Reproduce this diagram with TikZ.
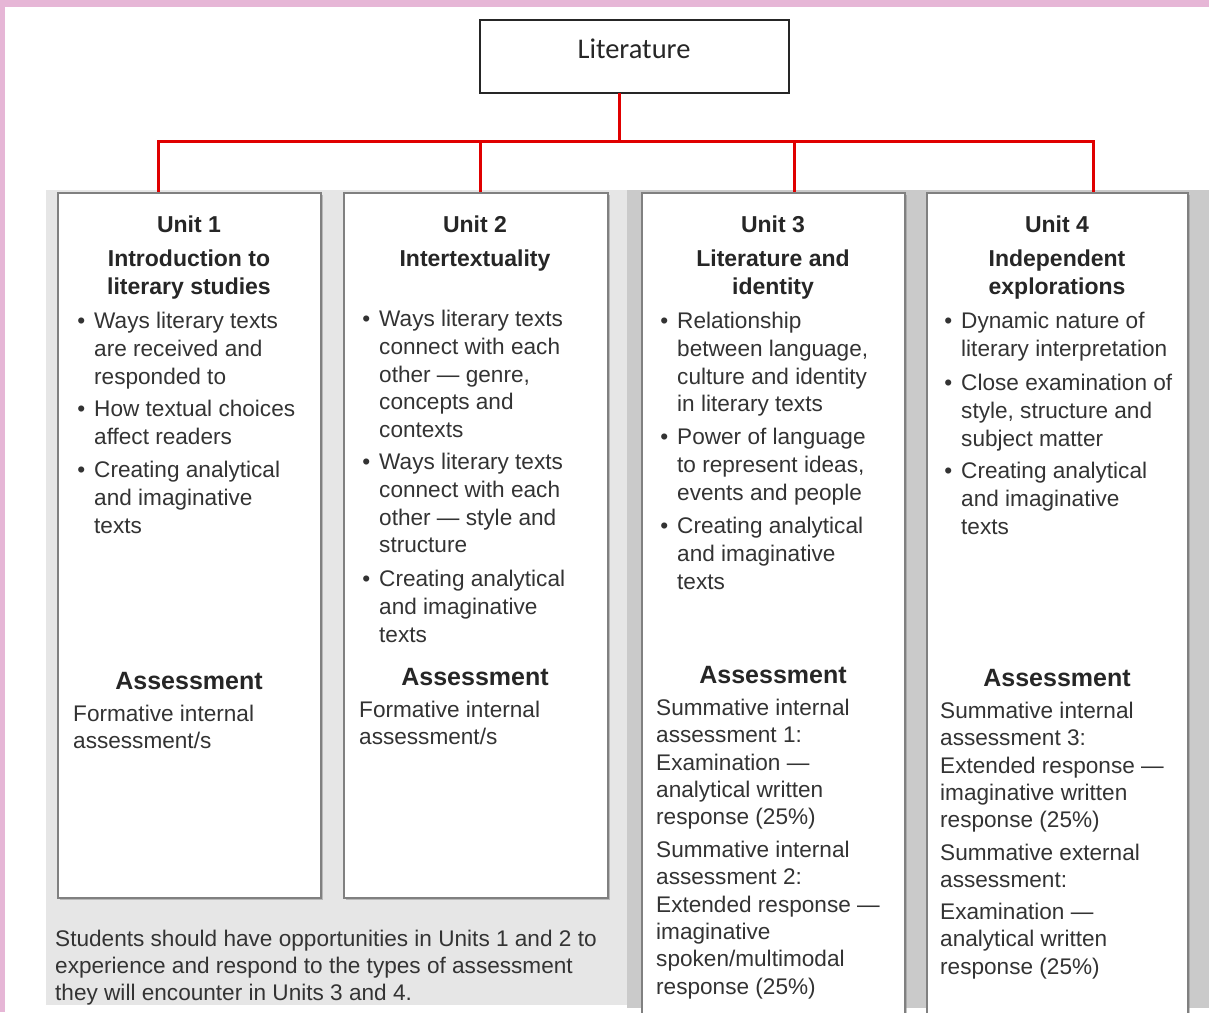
\documentclass[tikz,border=0pt]{standalone}
\usepackage{fontspec}
\setmainfont{Liberation Sans}
\newfontfamily\titlefont{Carlito}
\usetikzlibrary{shadows}
\definecolor{pinkframe}{HTML}{E6B6D6}
\definecolor{lightbg}{HTML}{E6E6E6}
\definecolor{midbg}{HTML}{CACACA}
\definecolor{linered}{HTML}{E00000}
\definecolor{txt}{HTML}{333333}
\begin{document}
\begin{tikzpicture}[x=1pt,y=-1pt,
  unitbox/.style={draw=black!50, line width=1.6pt, fill=white, inner sep=0pt, outer sep=0pt, anchor=north west,
    drop shadow={shadow xshift=1.5pt, shadow yshift=-1.5pt, fill=black!45}},
  head/.style={font=\fontsize{23}{28}\selectfont\bfseries, text=black!85, align=center, anchor=base, inner sep=0pt},
  body/.style={font=\fontsize{22.6}{27.8}\selectfont, text=txt, align=left, anchor=base west, inner sep=0pt},
  asshead/.style={font=\fontsize{25}{30}\selectfont\bfseries, text=black!85, anchor=base, inner sep=0pt},
  asstext/.style={font=\fontsize{22.6}{27.3}\selectfont, text=txt, align=left, anchor=base west, inner sep=0pt},
  conn/.style={draw=linered, line width=3pt},
]
\useasboundingbox (0,0) rectangle (1209,1012);
% frame and backgrounds
\fill[pinkframe] (0,0) rectangle (1209,1012);
\fill[white] (5,7) rectangle (1209,1012);
\fill[lightbg] (46,190) rectangle (627,1005);
\fill[midbg] (627,190) rectangle (1209,1008);

% top box
\node[draw=black!85, line width=1.3pt, fill=white, minimum width=309pt, minimum height=73pt,
      anchor=north west, inner sep=0pt, outer sep=0pt] (lit) at (480,20) {};
\node[font=\titlefont\fontsize{28.5}{30}\selectfont, text=black!85, anchor=base, inner sep=0pt] (littext) at (634,58) {Literature};

% unit boxes
\node[unitbox, minimum width=263pt, minimum height=705pt] (u1) at (58,193) {};
\node[unitbox, minimum width=264pt, minimum height=705pt] (u2) at (344,193) {};
\node[unitbox, minimum width=263pt, minimum height=830pt] (u3) at (642,193) {};
\node[unitbox, minimum width=261pt, minimum height=830pt] (u4) at (927,193) {};

% connectors
\coordinate (j) at (619,141);
\coordinate (t1) at (158,192);
\coordinate (t2) at (480,192);
\coordinate (t3) at (794,192);
\coordinate (t4) at (1093,192);
\draw[conn] (lit.south -| j) -- (j);
\draw[conn] (j) -| (t1);
\draw[conn] (j) -| (t2);
\draw[conn] (j) -| (t3);
\draw[conn] (j) -| (t4);

% (multi-line nodes are placed by the baseline of their last line)
% Unit 1
\node[head] (h1a) at (189,232) {Unit 1};
\node[head] (h1b) at (189,294) {Introduction to\\literary studies};
\node[body] (b1a) at (94,384.1) {\llap{•\hspace{9pt}}Ways literary texts\\are received and\\responded to};
\node[body] (b1b) at (94,444.3) {\llap{•\hspace{9pt}}How textual choices\\affect readers};
\node[body] (b1c) at (94,533.1) {\llap{•\hspace{9pt}}Creating analytical\\and imaginative\\texts};
\node[asshead] (a1) at (189,689) {Assessment};
\node[asstext] (a1t) at (73,748.8) {Formative internal\\assessment/s};

% Unit 2
\node[head] (h2a) at (475,232) {Unit 2};
\node[head] (h2b) at (475,266) {Intertextuality};
\node[body] (b2a) at (379,437.7) {\llap{•\hspace{9pt}}Ways literary texts\\connect with each\\other — genre,\\concepts and\\contexts};
\node[body] (b2b) at (379,552.9) {\llap{•\hspace{9pt}}Ways literary texts\\connect with each\\other — style and\\structure};
\node[body] (b2c) at (379,642.1) {\llap{•\hspace{9pt}}Creating analytical\\and imaginative\\texts};
\node[asshead] (a2) at (475,685) {Assessment};
\node[asstext] (a2t) at (359,744.8) {Formative internal\\assessment/s};

% Unit 3
\node[head] (h3a) at (773,232) {Unit 3};
\node[head] (h3b) at (773,294) {Literature and\\identity};
\node[body] (b3a) at (677,411.9) {\llap{•\hspace{9pt}}Relationship\\between language,\\culture and identity\\in literary texts};
\node[body] (b3b) at (677,500.1) {\llap{•\hspace{9pt}}Power of language\\to represent ideas,\\events and people};
\node[body] (b3c) at (677,589.1) {\llap{•\hspace{9pt}}Creating analytical\\and imaginative\\texts};
\node[asshead] (a3) at (773,683) {Assessment};
\node[asstext] (a3t) at (656,824.7) {Summative internal\\assessment 1:\\Examination —\\analytical written\\response (25\%)};
\node[asstext] (a3u) at (656,994) {Summative internal\\assessment 2:\\Extended response —\\imaginative\\spoken/multimodal\\response (25\%)};

% Unit 4
\node[head] (h4a) at (1057,232) {Unit 4};
\node[head] (h4b) at (1057,294) {Independent\\explorations};
\node[body] (b4a) at (961,356.3) {\llap{•\hspace{9pt}}Dynamic nature of\\literary interpretation};
\node[body] (b4b) at (961,446.1) {\llap{•\hspace{9pt}}Close examination of\\style, structure and\\subject matter};
\node[body] (b4c) at (961,534.1) {\llap{•\hspace{9pt}}Creating analytical\\and imaginative\\texts};
\node[asshead] (a4) at (1057,686) {Assessment};
\node[asstext] (a4t) at (940,827.7) {Summative internal\\assessment 3:\\Extended response —\\imaginative written\\response (25\%)};
\node[asstext] (a4u) at (940,887.8) {Summative external\\assessment:};
\node[asstext] (a4v) at (940,974.1) {Examination —\\analytical written\\response (25\%)};

% bottom note
\node[asstext, font=\fontsize{22.6}{27}\selectfont] (note) at (55,1000.5) {Students should have opportunities in Units 1 and 2 to\\experience and respond to the types of assessment\\they will encounter in Units 3 and 4.};
\end{tikzpicture}
\end{document}
